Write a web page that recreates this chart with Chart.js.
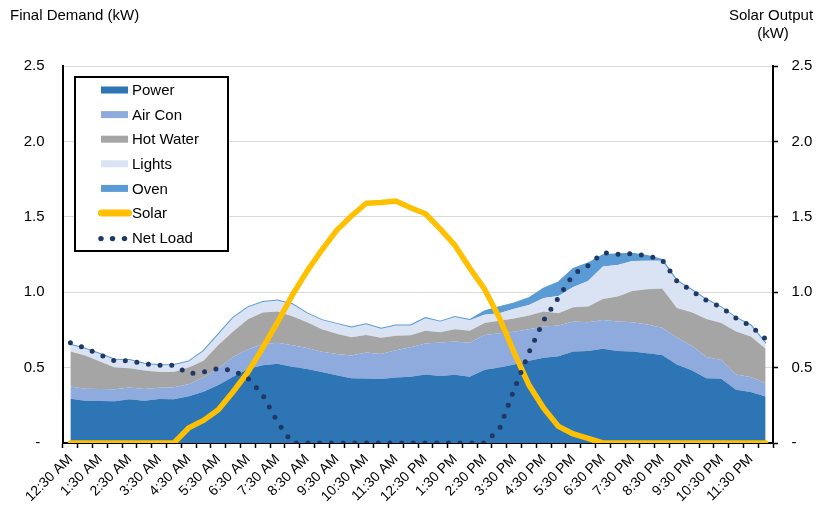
<!DOCTYPE html>
<html><head><meta charset="utf-8">
<script src="https://cdn.jsdelivr.net/npm/chart.js@4.4.1/dist/chart.umd.min.js"></script>
<style>html,body{margin:0;padding:0;background:#fff;}#wrap{width:816px;height:507px;}</style>
</head><body><div id="wrap"><canvas id="c" width="816" height="507"></canvas></div>
<script>
const categories = ['12:30 AM','1:00 AM','1:30 AM','2:00 AM','2:30 AM','3:00 AM','3:30 AM','4:00 AM','4:30 AM','5:00 AM','5:30 AM','6:00 AM','6:30 AM','7:00 AM','7:30 AM','8:00 AM','8:30 AM','9:00 AM','9:30 AM','10:00 AM','10:30 AM','11:00 AM','11:30 AM','12:00 PM','12:30 PM','1:00 PM','1:30 PM','2:00 PM','2:30 PM','3:00 PM','3:30 PM','4:00 PM','4:30 PM','5:00 PM','5:30 PM','6:00 PM','6:30 PM','7:00 PM','7:30 PM','8:00 PM','8:30 PM','9:00 PM','9:30 PM','10:00 PM','10:30 PM','11:00 PM','11:30 PM','12:00 AM'];

const power    = [0.293,0.28,0.278,0.277,0.29,0.28,0.292,0.29,0.31,0.34,0.385,0.44,0.49,0.515,0.525,0.505,0.49,0.47,0.45,0.43,0.428,0.425,0.435,0.44,0.455,0.445,0.452,0.44,0.485,0.5,0.52,0.545,0.565,0.575,0.607,0.61,0.625,0.61,0.607,0.595,0.583,0.52,0.482,0.43,0.426,0.353,0.338,0.308];
const airCon   = [0.082,0.08,0.08,0.08,0.078,0.078,0.075,0.08,0.08,0.095,0.11,0.13,0.13,0.14,0.14,0.143,0.14,0.135,0.14,0.15,0.172,0.165,0.18,0.195,0.205,0.221,0.221,0.225,0.232,0.228,0.217,0.21,0.207,0.205,0.198,0.19,0.19,0.195,0.193,0.19,0.182,0.18,0.163,0.14,0.124,0.102,0.099,0.089];
const hotWater = [0.232,0.22,0.182,0.143,0.127,0.122,0.103,0.10,0.11,0.11,0.155,0.17,0.20,0.21,0.207,0.192,0.17,0.15,0.135,0.122,0.117,0.108,0.097,0.08,0.085,0.069,0.082,0.08,0.078,0.082,0.088,0.09,0.10,0.08,0.095,0.105,0.14,0.167,0.208,0.235,0.26,0.195,0.222,0.252,0.245,0.285,0.269,0.228];
const lights   = [0.044,0.045,0.05,0.052,0.055,0.045,0.046,0.048,0.04,0.065,0.07,0.09,0.08,0.07,0.073,0.08,0.06,0.06,0.065,0.064,0.071,0.06,0.068,0.065,0.083,0.07,0.08,0.07,0.055,0.05,0.065,0.07,0.09,0.115,0.135,0.17,0.215,0.208,0.199,0.189,0.184,0.18,0.148,0.128,0.105,0.09,0.074,0.035];
const oven     = [0,0,0,0,0,0,0,0,0,0,0,0,0,0,0,0,0,0,0,0,0,0,0,0,0,0,0,0,0.022,0.04,0.035,0.045,0.062,0.09,0.12,0.115,0.075,0.072,0.048,0.031,0.006,0,0,0,0,0,0,0];
const solar    = [0,0,0,0,0,0,0,0,0.1,0.15,0.22,0.34,0.47,0.63,0.8,0.98,1.14,1.28,1.41,1.505,1.59,1.595,1.605,1.56,1.52,1.42,1.31,1.16,1.02,0.83,0.6,0.385,0.23,0.11,0.06,0.03,0,0,0,0,0,0,0,0,0,0,0,0];
const netLoad  = [0.665,0.63,0.585,0.545,0.545,0.525,0.516,0.515,0.46,0.47,0.495,0.48,0.43,0.32,0.14,0,0,0,0,0,0,0,0,0,0,0,0,0,0,0.092,0.355,0.6,0.814,0.965,1.12,1.176,1.262,1.252,1.255,1.242,1.215,1.075,1.01,0.945,0.9,0.828,0.775,0.69];

const yMin = 0, yMax = 2.5, yStep = 0.5;
const leftTitle = 'Final Demand (kW)';
const rightTitle = ['Solar Output', '(kW)'];

const FONT = "'Liberation Sans', Arial, sans-serif";
Chart.defaults.font.family = FONT;
Chart.defaults.color = '#000';

const fmt = v => (v === 0 ? '- ' : v.toFixed(1));

const extras = {
  id: 'extras',
  afterDraw(chart) {
    const ctx = chart.ctx;
    ctx.save();
    ctx.font = '15px ' + FONT;
    ctx.fillStyle = '#000';
    ctx.textBaseline = 'middle';
    ctx.textAlign = 'left';
    ctx.fillText(leftTitle, 10, 16);
    ctx.textAlign = 'center';
    ctx.fillText(rightTitle[0], 771, 16);
    ctx.fillText(rightTitle[1], 773, 34);
    // legend
    const bx = 75, by = 77, bw = 153, bh = 174;
    ctx.fillStyle = '#fff';
    ctx.fillRect(bx, by, bw, bh);
    ctx.lineWidth = 2;
    ctx.strokeStyle = '#000';
    ctx.strokeRect(bx, by, bw, bh);
    ctx.textAlign = 'left';
    chart.data.datasets.forEach((ds, k) => {
      const yy = 90 + k * 24.6;
      if (ds.legendKind === 'area') {
        ctx.fillStyle = ds.backgroundColor;
        ctx.fillRect(101, yy - 3.5, 27, 7);
      } else if (ds.legendKind === 'line') {
        ctx.strokeStyle = ds.borderColor;
        ctx.lineWidth = 7;
        ctx.lineCap = 'round';
        ctx.beginPath(); ctx.moveTo(101.5, yy); ctx.lineTo(128.5, yy); ctx.stroke();
      } else {
        ctx.fillStyle = ds.borderColor;
        [101, 112.5, 124.5].forEach(x => { ctx.beginPath(); ctx.arc(x, yy + 1, 2.7, 0, Math.PI * 2); ctx.fill(); });
      }
      ctx.fillStyle = '#000';
      ctx.fillText(ds.label, 132, yy + 1);
    });
    ctx.restore();
  }
};

const area = (label, data, color, fill, extra) => Object.assign({
  label, data, backgroundColor: color, borderColor: 'rgba(0,0,0,0)', borderWidth: 0,
  fill, pointRadius: 0, tension: 0, order: 10, stack: 'demand', yAxisID: 'y', legendKind: 'area'
}, extra || {});

new Chart(document.getElementById('c'), {
  type: 'line',
  data: {
    labels: categories,
    datasets: [
      area('Power', power, '#2E75B6', 'origin'),
      area('Air Con', airCon, '#8FAADC', '-1'),
      area('Hot Water', hotWater, '#A5A5A5', '-1'),
      area('Lights', lights, '#DAE3F3', '-1'),
      area('Oven', oven, '#5B9BD5', '-1', { borderColor: '#5B9BD5', borderWidth: 2 }),
      { label: 'Solar', data: solar, borderColor: '#FFC000', borderWidth: 5.5, fill: false, pointRadius: 0,
        tension: 0, order: 1, yAxisID: 'y2', borderCapStyle: 'round', borderJoinStyle: 'round', legendKind: 'line' },
      { label: 'Net Load', data: netLoad, borderColor: '#1F3864', borderWidth: 5, fill: false, pointRadius: 0,
        tension: 0, order: 0, stack: 'net', yAxisID: 'y', borderDash: [0, 11.7], borderCapStyle: 'round',
        borderJoinStyle: 'round', legendKind: 'dots' }
    ]
  },
  options: {
    responsive: false,
    animation: false,
    devicePixelRatio: 1,
    layout: { padding: { top: 66, left: 0, right: 0, bottom: 0 } },
    plugins: { legend: { display: false }, tooltip: { enabled: false } },
    scales: {
      x: {
        offset: true,
        grid: { offset: true, drawOnChartArea: false, drawTicks: true, tickLength: 5, tickColor: '#000', tickWidth: 1.5 },
        border: { display: true, color: '#000', width: 2 },
        ticks: {
          autoSkip: false, maxRotation: 45, minRotation: 45, padding: 3,
          font: { size: 14 }, color: '#000',
          callback: (v, i) => (i % 2 === 0 ? categories[i] : '')
        },
        afterFit: s => { s.height = 64; }
      },
      y: {
        position: 'left', stacked: true, min: yMin, max: yMax,
        grid: { color: '#D9D9D9', lineWidth: 1, drawTicks: false },
        border: { display: true, color: '#000', width: 2 },
        ticks: { stepSize: yStep, padding: 18.5, font: { size: 15 }, color: '#000', callback: fmt },
        afterFit: s => { s.width = 63; }
      },
      y2: {
        position: 'right', min: yMin, max: yMax,
        grid: { drawOnChartArea: false, drawTicks: true, tickLength: 5, tickColor: '#000', tickWidth: 1.5 },
        border: { display: true, color: '#000', width: 2 },
        ticks: { stepSize: yStep, padding: 13.5, font: { size: 15 }, color: '#000', callback: fmt },
        afterFit: s => { s.width = 43; }
      }
    }
  },
  plugins: [extras]
});
</script>
</body></html>
